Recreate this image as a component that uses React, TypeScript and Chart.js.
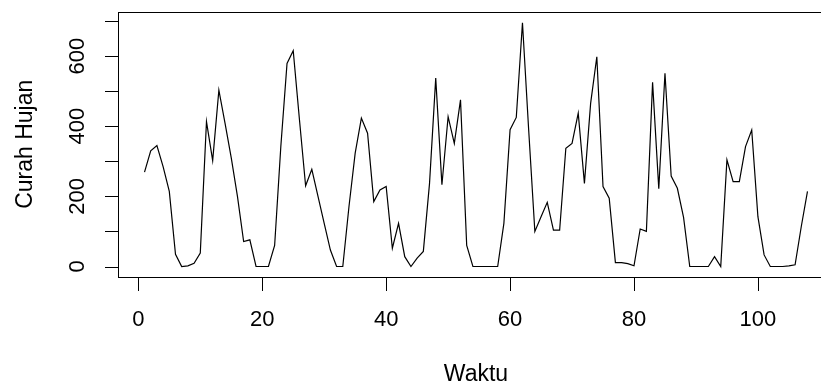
import React, { useEffect, useRef } from "react";
import { Chart, registerables } from "chart.js";

Chart.register(...registerables);

// Curah Hujan (rainfall) per time step, t = 1..108
const curahHujan = [
  269, 330, 345, 285, 214, 35, 0, 2, 9, 38,
  413, 302, 503, 408, 310, 200, 71, 76, 0, 0,
  0, 60, 342, 579, 615, 420, 230, 277, 200, 123,
  47, 0, 0, 171, 323, 423, 380, 185, 218, 228,
  52, 123, 28, 0, 24, 43, 237, 537, 233, 427,
  351, 475, 60, 0, 0, 0, 0, 0, 123, 390,
  425, 695, 390, 100, 142, 183, 104, 104, 337, 351,
  437, 237, 465, 598, 228, 195, 11, 11, 8, 2,
  107, 100, 525, 222, 551, 258, 223, 140, 0, 0,
  0, 0, 28, 0, 304, 242, 242, 342, 389, 142,
  33, 0, 0, 0, 2, 5, 114, 214,
];
const waktu = curahHujan.map((_, i) => i + 1);

const xTicks = [0, 20, 40, 60, 80, 100];
const yTicks = [0, 100, 200, 300, 400, 500, 600, 700];
const yTickLabels = [0, 200, 400, 600];
const xTitle = "Waktu";
const yTitle = "Curah Hujan";

const FONT = '"Liberation Sans", Arial, sans-serif';

const rAxesPlugin = {
  id: "rAxes",
  afterDraw(chart: any) {
    const { ctx, chartArea } = chart;
    const xs = chart.scales.x;
    const ys = chart.scales.y;
    const { left, right, top, bottom } = chartArea;
    ctx.save();
    ctx.strokeStyle = "#000";
    ctx.fillStyle = "#000";
    ctx.lineWidth = 1;
    // box
    ctx.strokeRect(Math.round(left) + 0.5, Math.round(top) + 0.5, Math.round(right - left), Math.round(bottom - top));
    // x ticks
    ctx.beginPath();
    xTicks.forEach((v) => {
      const px = Math.round(xs.getPixelForValue(v)) + 0.5;
      ctx.moveTo(px, Math.round(bottom) + 0.5);
      ctx.lineTo(px, Math.round(bottom) + 14);
    });
    // y ticks
    yTicks.forEach((v) => {
      const py = Math.round(ys.getPixelForValue(v)) + 0.5;
      ctx.moveTo(Math.round(left) + 0.5, py);
      ctx.lineTo(Math.round(left) - 13, py);
    });
    ctx.stroke();
    // x tick labels
    ctx.font = `22px ${FONT}`;
    ctx.textAlign = "center";
    ctx.textBaseline = "alphabetic";
    xTicks.forEach((v) => {
      ctx.fillText(String(v), xs.getPixelForValue(v), 326);
    });
    // y tick labels (rotated)
    yTickLabels.forEach((v) => {
      ctx.save();
      ctx.translate(84, ys.getPixelForValue(v));
      ctx.rotate(-Math.PI / 2);
      ctx.fillText(String(v), 0, 0);
      ctx.restore();
    });
    // titles
    ctx.font = `23px ${FONT}`;
    ctx.fillText(xTitle, (left + right) / 2, 381);
    ctx.save();
    ctx.translate(32, (top + bottom) / 2);
    ctx.rotate(-Math.PI / 2);
    ctx.fillText(yTitle, 0, 0);
    ctx.restore();
    ctx.restore();
  },
};

export default function App() {
  const ref = useRef<HTMLCanvasElement | null>(null);
  useEffect(() => {
    if (!ref.current) return;
    const chart = new Chart(ref.current, {
      type: "line",
      data: {
        datasets: [
          {
            data: waktu.map((x, i) => ({ x, y: curahHujan[i] })),
            borderColor: "#000",
            borderWidth: 1.2,
            pointRadius: 0,
            tension: 0,
            fill: false,
          },
        ],
      },
      options: {
        responsive: false,
        animation: false,
        devicePixelRatio: 1,
        layout: { padding: { left: 118, top: 12, right: 16, bottom: 108.5 } },
        plugins: { legend: { display: false }, tooltip: { enabled: false } },
        scales: {
          x: { type: "linear", min: -3.28, max: 112.28, display: false },
          y: { type: "linear", min: -28.5, max: 725.6, display: false },
        },
      },
      plugins: [rAxesPlugin],
    });
    return () => chart.destroy();
  }, []);
  return (
    <div
      style={{
        position: "fixed",
        left: 0,
        top: 0,
        width: 821,
        height: 385,
        overflow: "hidden",
        background: "#fff",
      }}
    >
      <canvas ref={ref} width={850} height={385} style={{ display: "block" }} />
    </div>
  );
}
